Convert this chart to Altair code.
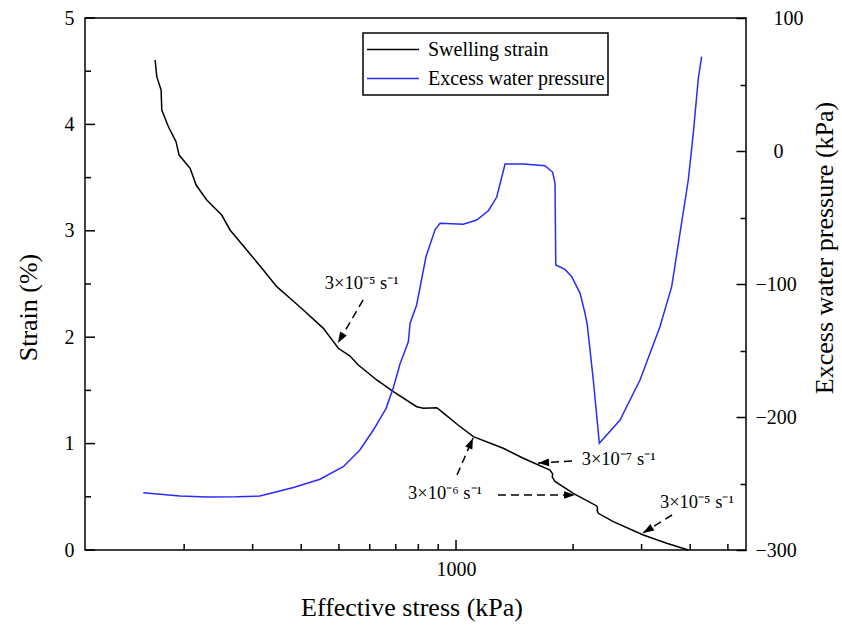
import altair as alt
import pandas as pd

# Swelling strain curve: effective stress (kPa) vs strain (%)
strain_stress = [168.4, 170.1, 174.5, 175.2, 182.2, 190.6, 194.1, 207.2, 214.7, 228.6,
                 249.8, 262.4, 289.7, 319.6, 346.0, 374.4, 405.0, 456.0, 498.2, 533.9,
                 560.9, 625.4, 690.1, 792.4, 823.8, 892.2, 918.9, 1012, 1108, 1323,
                 1489, 1744, 1772, 1768, 1797, 2002, 2300, 2312, 2306, 2322,
                 2537, 3030, 3480, 3955]
strain_pct = [4.605, 4.449, 4.323, 4.135, 3.978, 3.838, 3.712, 3.587, 3.430, 3.289,
              3.148, 3.008, 2.820, 2.632, 2.475, 2.366, 2.256, 2.083, 1.896, 1.823,
              1.739, 1.598, 1.488, 1.347, 1.332, 1.337, 1.300, 1.175, 1.065, 0.956,
              0.862, 0.752, 0.715, 0.685, 0.645, 0.533, 0.414, 0.395, 0.370, 0.345,
              0.266, 0.141, 0.063, 0.0]

# Excess water pressure curve: effective stress (kPa) vs pressure (kPa)
pwp_stress = [157, 195, 229, 273, 313, 382, 447, 513, 566, 613,
              661, 690, 718, 754, 762, 792, 837, 884, 910, 1044,
              1130, 1211, 1272, 1337, 1489, 1694, 1772, 1797, 1805, 1906,
              1984, 2084, 2146, 2175, 2254, 2336, 2640, 2972, 3344, 3585,
              3765, 3955, 4074, 4197, 4281]
pwp_kpa = [-257, -259.4, -260.2, -260, -259.4, -253, -246.8, -237.4, -224.8, -209.8,
           -193.5, -178, -160, -143.4, -129.5, -115.8, -79.5, -58.9, -54.4, -55.1,
           -51.9, -44.9, -34.8, -9.8, -9.8, -11.1, -16, -24.3, -85.7, -89,
           -94.5, -107, -122, -130.8, -172.2, -219.8, -202.3, -172.2, -132.1, -102,
           -61.9, -21.8, 13.3, 54.7, 70.9]

series_names = ["Swelling strain", "Excess water pressure"]
series_colors = ["#000000", "#2a2aff"]

# Strain-rate labels (left-aligned anchor, in data units)
label_text = ["3×10⁻⁵ s⁻¹", "3×10⁻⁶ s⁻¹", "3×10⁻⁷ s⁻¹", "3×10⁻⁵ s⁻¹"]
label_stress = [460, 753, 2104, 3344]
label_strain = [2.509, 0.536, 0.855, 0.454]

# Dashed arrows: tail -> head in data units, head rotation in degrees
arrow_tail_stress = [577, 1006, 1282, 1987, 3593]
arrow_tail_strain = [2.350, 0.705, 0.517, 0.836, 0.329]
arrow_head_stress = [497, 1106, 2023, 1625, 3025]
arrow_head_strain = [1.945, 1.053, 0.517, 0.818, 0.160]
arrow_angle = [210, 23, 90, 267, 238]

# Axis tick / label values
x_major_ticks = [1000]
x_minor_ticks = [200, 300, 400, 500, 600, 700, 800, 900, 2000, 3000, 4000, 5000]
x_labels = [1000]
strain_major_ticks = [0, 1, 2, 3, 4, 5]
strain_minor_ticks = [0.5, 1.5, 2.5, 3.5, 4.5]
strain_labels = [0, 1, 2, 3, 4, 5]
pwp_ticks = [-300, -250, -200, -150, -100, -50, 0, 50, 100]
pwp_labels = [-300, -200, -100, 0, 100]

W, H = 661, 532
FONT = "Liberation Serif"
MAJOR, MINOR = 10, 6
TICK_COLOR = "black"

x_scale = alt.Scale(type="log", domain=[111.2, 5566], nice=False)


def strain_scale():
    return alt.Scale(domain=[0, 5], nice=False, zero=False)


def pwp_scale():
    return alt.Scale(domain=[-300, 100], nice=False, zero=False)


color_scale = alt.Scale(domain=series_names, range=series_colors)

label_style = dict(ticks=False, tickSize=0, domain=False, grid=False, labelFont=FONT,
                   labelFontSize=20, labelColor="black", labelFlush=False,
                   labelOverlap=False, titleFont=FONT, titleFontSize=26,
                   titleFontWeight="normal", titleColor="black",
                   titleBaseline="middle", titleAlign="center")

x_label_axis = alt.Axis(values=x_labels, format="d", orient="bottom", labelPadding=9,
                        title="Effective stress (kPa)", titleX=W / 2 - 4, titleY=57,
                        **label_style)
strain_label_axis = alt.Axis(values=strain_labels, orient="left", labelPadding=11,
                             title="Strain (%)", titleAngle=270, titleX=-57, titleY=289,
                             **label_style)
pwp_label_axis = alt.Axis(values=pwp_labels, orient="right", labelAlign="left",
                          labelPadding={"condition": {"test": "datum.value < 0", "value": 9}, "value": 27},
                          title="Excess water pressure (kPa)", titleAngle=270,
                          titleX=78, titleY=229.5, **label_style)
# tick-only axis moved onto the right frame edge so its ticks point inward
pwp_tick_axis = alt.Axis(values=pwp_ticks, orient="left", offset=-W,
                         tickSize={"condition": {"test": "datum.value % 100 === 0", "value": MAJOR}, "value": MINOR},
                         labels=False, domain=False, grid=False, title=None,
                         tickColor=TICK_COLOR, tickWidth=1.5)

strain_df = pd.DataFrame({"stress": strain_stress, "strain": strain_pct,
                          "series": series_names[0], "i": range(len(strain_stress))})
pwp_df = pd.DataFrame({"stress": pwp_stress, "pwp": pwp_kpa,
                       "series": series_names[1], "i": range(len(pwp_stress))})
label_df = pd.DataFrame({"t": label_text, "x": label_stress, "s": label_strain})
arrow_df = pd.DataFrame({"x0": arrow_tail_stress, "s0": arrow_tail_strain,
                         "x1": arrow_head_stress, "s1": arrow_head_strain,
                         "ang": arrow_angle})

legend = alt.Legend(title=None, orient="none", legendX=278, legendY=15,
                    symbolType="stroke", symbolSize=2704, symbolStrokeWidth=1.5,
                    labelFont=FONT, labelFontSize=20, labelColor="black", labelLimit=400,
                    labelOffset=8, padding=3, clipHeight=27, rowPadding=2,
                    strokeColor="black", fillColor="white")

strain_line = alt.Chart(strain_df).mark_line(strokeWidth=1.5).encode(
    x=alt.X("stress:Q", scale=x_scale, axis=x_label_axis),
    y=alt.Y("strain:Q", scale=strain_scale(), axis=strain_label_axis),
    color=alt.Color("series:N", scale=color_scale, legend=legend),
    order="i:Q",
)

pwp_line = alt.Chart(pwp_df).mark_line(strokeWidth=1.5).encode(
    x=alt.X("stress:Q", scale=x_scale, axis=None),
    y=alt.Y("pwp:Q", scale=pwp_scale(), axis=pwp_label_axis),
    color=alt.Color("series:N", scale=color_scale, legend=legend),
    order="i:Q",
)

# Invisible copy of the pressure series that carries the right-hand ticks
pwp_ticks_layer = alt.Chart(pwp_df).mark_line(strokeOpacity=0).encode(
    x=alt.X("stress:Q", scale=x_scale, axis=None),
    y=alt.Y("pwp:Q", scale=pwp_scale(), axis=pwp_tick_axis),
    order="i:Q",
)


# Inward ticks on the bottom and left frame edges
def bottom_ticks(values, size):
    return alt.Chart(pd.DataFrame({"v": values})).mark_rule(color=TICK_COLOR, strokeWidth=1.5).encode(
        x=alt.X("v:Q", scale=x_scale, axis=None),
        y=alt.value(H), y2=alt.value(H - size),
    )


def left_ticks(values, size):
    return alt.Chart(pd.DataFrame({"v": values})).mark_rule(color=TICK_COLOR, strokeWidth=1.5).encode(
        y=alt.Y("v:Q", scale=strain_scale(), axis=None),
        x=alt.value(0), x2=alt.value(size),
    )


shafts = alt.Chart(arrow_df).mark_rule(strokeDash=[8, 5], strokeWidth=1.5, color="black").encode(
    x=alt.X("x0:Q", scale=x_scale, axis=None),
    x2="x1:Q",
    y=alt.Y("s0:Q", scale=strain_scale(), axis=None),
    y2="s1:Q",
)

heads = alt.Chart(arrow_df).mark_point(shape="M0,0L0.7,2L-0.7,2Z", filled=True, size=121,
                                       color="black", opacity=1).encode(
    x=alt.X("x1:Q", scale=x_scale, axis=None),
    y=alt.Y("s1:Q", scale=strain_scale(), axis=None),
    angle=alt.Angle("ang:Q", scale=None),
)

labels = alt.Chart(label_df).mark_text(font=FONT, fontSize=18.5, align="left",
                                       baseline="middle", color="black").encode(
    x=alt.X("x:Q", scale=x_scale, axis=None),
    y=alt.Y("s:Q", scale=strain_scale(), axis=None),
    text="t:N",
)

chart = (
    alt.layer(strain_line, pwp_line, pwp_ticks_layer,
              bottom_ticks(x_major_ticks, MAJOR), bottom_ticks(x_minor_ticks, MINOR),
              left_ticks(strain_major_ticks, MAJOR), left_ticks(strain_minor_ticks, MINOR),
              shafts, heads, labels)
    .resolve_scale(y="independent")
    .resolve_axis(x="independent", y="independent")
    .properties(width=W, height=H,
                padding={"left": 85, "top": 18, "right": 96, "bottom": 82},
                autosize=alt.AutoSizeParams(type="none"),
                background="white")
    .configure_view(stroke="black", strokeWidth=1.5)
    .configure_legend(strokeWidth=1.5)
)

chart.save("out.html", embed_options={"renderer": "svg", "actions": False})
